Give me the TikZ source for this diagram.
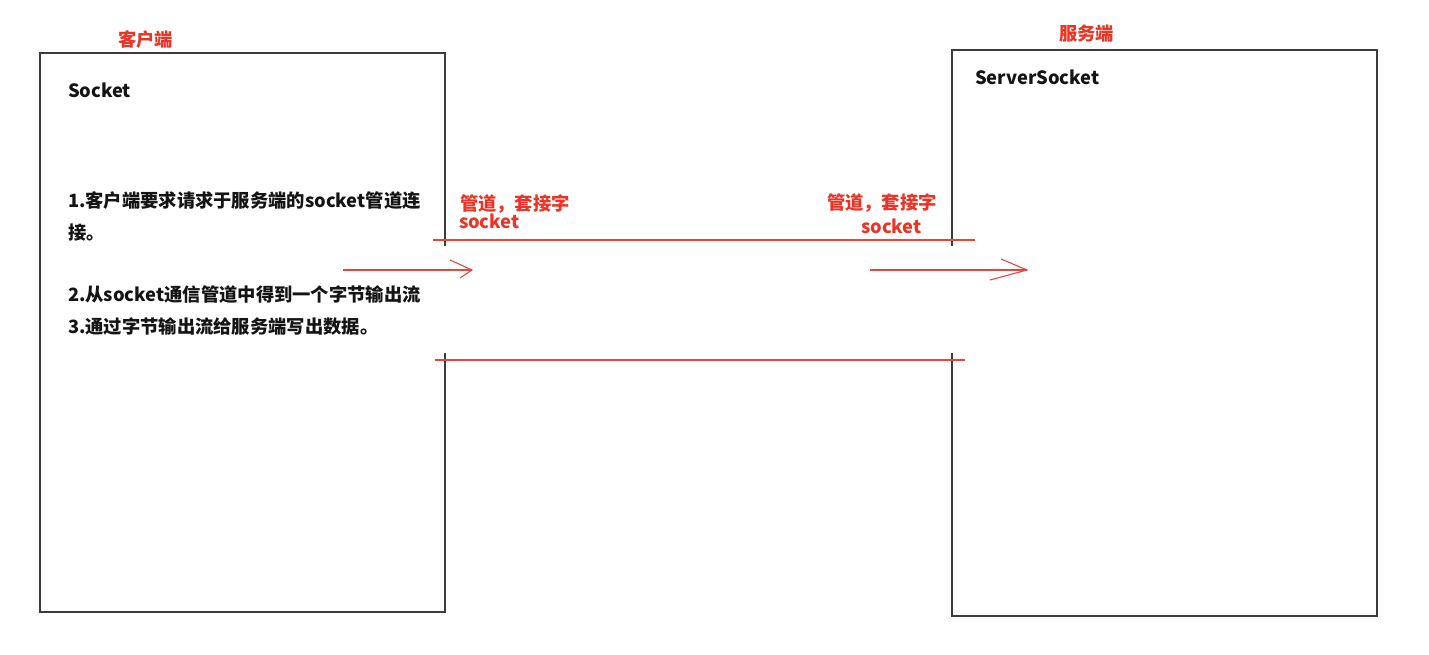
\documentclass[tikz,border=0pt]{standalone}
\usepackage{fontspec}
\setmainfont{Noto Sans CJK SC}
\definecolor{pipe}{RGB}{232,70,58}
\definecolor{lbl}{RGB}{236,52,38}
\definecolor{frame}{RGB}{60,60,60}
\definecolor{ink}{RGB}{20,20,20}
\tikzset{
  boxline/.style={draw=frame, line width=1.3pt},
  pipeline/.style={draw=pipe, line width=1.1pt},
  txt/.style={anchor=west, text=ink, font=\fontsize{18.3}{21}\selectfont\bfseries},
  redtxt/.style={anchor=west, text=lbl, font=\fontsize{18.3}{21}\selectfont\bfseries},
}
\begin{document}
\begin{tikzpicture}[x=1pt,y=-1pt, every node/.style={inner sep=0pt, outer sep=0pt}]
\useasboundingbox (0,0) rectangle (1429,655);
\fill[white] (0,0) rectangle (1429,655);

% client box (right edge broken where the pipe enters)
\coordinate (c1) at (445,246);
\coordinate (c2) at (445,53);
\coordinate (c3) at (40,53);
\coordinate (c4) at (40,612);
\coordinate (c5) at (445,612);
\coordinate (c6) at (445,353);
\draw[boxline] (c1) -- (c2) -- (c3) -- (c4) -- (c5) -- (c6);

% server box
\coordinate (s1) at (952,246);
\coordinate (s2) at (952,50);
\coordinate (s3) at (1377,50);
\coordinate (s4) at (1377,616);
\coordinate (s5) at (952,616);
\coordinate (s6) at (952,353);
\draw[boxline] (s1) -- (s2) -- (s3) -- (s4) -- (s5) -- (s6);

% pipe lines
\coordinate (pt1) at (433,240);
\coordinate (pt2) at (975,240);
\coordinate (pb1) at (435,360);
\coordinate (pb2) at (965,360);
\draw[pipeline] (pt1) -- (pt2);
\draw[pipeline] (pb1) -- (pb2);

% hand-drawn arrows
\coordinate (a1s) at (343,270);
\coordinate (a1e) at (472,270);
\coordinate (a1u) at (450,260);
\coordinate (a1l) at (460,278);
\draw[pipeline] (a1s) -- (a1e);
\draw[pipeline] (a1u) -- (a1e) -- (a1l);

\coordinate (a2s) at (870,270);
\coordinate (a2e) at (1027,270);
\coordinate (a2u) at (1001,259);
\coordinate (a2l) at (990,280);
\draw[pipeline] (a2s) -- (a2e);
\draw[pipeline] (a2u) -- (a2e) -- (a2l);

% titles
\node[redtxt] (ct) at (118,40) {客户端};
\node[redtxt] (st) at (1059,34) {服务端};
\node[txt] (sock) at (68,90) {Socket};
\node[txt] (ssock) at (975,77) {ServerSocket};

% client description
\node[txt] (l1) at (68,201) {1.客户端要求请求于服务端的socket管道连};
\node[txt] (l1b) at (68,233) {接。};
\node[txt] (l2) at (68,295) {2.从socket通信管道中得到一个字节输出流};
\node[txt] (l3) at (68,327) {3.通过字节输出流给服务端写出数据。};

% pipe labels
\node[redtxt] (pl1) at (460,204) {管道，套接字};
\node[redtxt] (pl1b) at (459,221) {socket};
\node[redtxt] (pl2) at (827,203) {管道，套接字};
\node[redtxt] (pl2b) at (861,226) {socket};
\end{tikzpicture}
\end{document}
